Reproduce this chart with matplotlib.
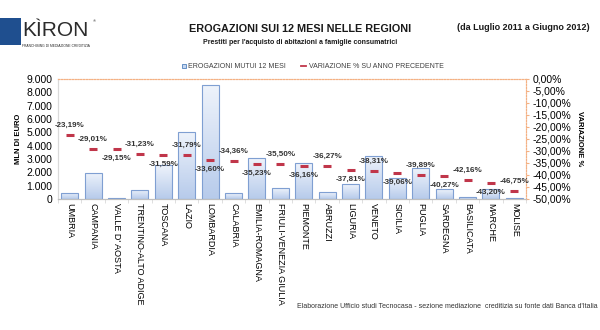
import matplotlib
matplotlib.use("Agg")
import matplotlib.pyplot as plt
import numpy as np
from matplotlib.patches import Rectangle

plt.rcParams['font.family'] = ['Liberation Sans', 'DejaVu Sans']

regioni = ["UMBRIA", "CAMPANIA", "VALLE D' AOSTA", "TRENTINO-ALTO ADIGE", "TOSCANA",
           "LAZIO", "LOMBARDIA", "CALABRIA", "EMILIA-ROMAGNA", "FRIULI-VENEZIA GIULIA",
           "PIEMONTE", "ABRUZZI", "LIGURIA", "VENETO", "SICILIA", "PUGLIA",
           "SARDEGNA", "BASILICATA", "MARCHE", "MOLISE"]
erogazioni = [480, 1970, 100, 680, 2530, 5050, 8550, 430, 3050, 800,
              2680, 500, 1120, 3230, 1600, 2300, 730, 130, 730, 100]
variazione = [-23.19, -29.01, -29.15, -31.23, -31.59, -31.79, -33.60, -34.36, -35.23, -35.50,
              -36.16, -36.27, -37.81, -38.31, -39.06, -39.89, -40.27, -42.16, -43.20, -46.75]
# where excel put the data label: 1 above the marker, -1 below
lbl_pos = [1, 1, -1, 1, -1, 1, -1, 1, -1, 1, -1, 1, -1, 1, -1, 1, -1, 1, -1, 1]

def fmt_it(v, dec=2):
    return ("%.*f" % (dec, v)).replace(".", ",")

fig = plt.figure(figsize=(6, 3.3), dpi=100)
ax = fig.add_axes([58/600, 1-199/330, 468/600, 120/330])
ax2 = ax.twinx()

x = np.arange(len(regioni))
bars = ax.bar(x, erogazioni, width=0.72, facecolor='none', edgecolor='#7f9fd2', linewidth=0.8, zorder=3)
# vertical gradient inside every bar
grad = np.linspace(0, 1, 64).reshape(-1, 1)
cmap = matplotlib.colors.LinearSegmentedColormap.from_list('b', ['#b7cbeb', '#eef3fb'])
for b in bars:
    bx, by, bw, bh = b.get_x(), b.get_y(), b.get_width(), b.get_height()
    im = ax.imshow(grad, cmap=cmap, aspect='auto', origin='lower',
                   extent=[bx, bx + bw, by, by + bh], zorder=2)
    im.set_clip_path(b)

ax.set_xlim(-0.5, len(regioni) - 0.5)
ax.set_ylim(0, 9000)
ax.set_yticks(np.arange(0, 9001, 1000))
ax.set_yticklabels(["{:,}".format(v).replace(",", ".") for v in range(0, 9001, 1000)], fontsize=7.5)
ax.set_xticks(x)
ax.set_xticklabels(regioni, rotation=-90, fontsize=6.5, va='top', ha='center')
ax.set_xticks(np.arange(-0.5, len(regioni), 1), minor=True)
ax.tick_params(axis='x', which='major', length=0, pad=3)
ax.tick_params(axis='x', which='minor', length=3, color='#d9d9d9')
ax.tick_params(axis='y', length=0, pad=4)
ax.set_ylabel("MLN DI EURO", fontsize=5.5, fontweight='bold', labelpad=3)

ax2.plot(x, variazione, linestyle='none', marker='_', markersize=6, mew=2.2, color='#c0364a', zorder=4)
for xi, v, p in zip(x, variazione, lbl_pos):
    ax2.annotate(fmt_it(v) + "%", (xi, v), xytext=(0, 7 * p), textcoords='offset points',
                 ha='center', va='center', fontsize=5.8, fontweight='bold', color='#333333')
ax2.set_ylim(-50, 0)
ax2.set_yticks(np.arange(-50, 1, 5))
ax2.set_yticklabels([fmt_it(v) + "%" for v in np.arange(-50, 1, 5)], fontsize=7.5)
ax2.tick_params(axis='y', length=2, color='#f4b183', pad=3)
ax2.set_ylabel("VARIAZIONE %", fontsize=5.5, fontweight='bold', rotation=-90, labelpad=8)

for a in (ax, ax2):
    a.spines['left'].set_color('#d9d9d9')
    a.spines['bottom'].set_color('#bfbfbf')
    a.spines['top'].set_color('#f4b183')
    a.spines['top'].set_linestyle((0, (1, 1.5)))
    a.spines['right'].set_color('#f4b183')
    a.spines['right'].set_linestyle((0, (1, 1.5)))

# titles
fig.text(300/600, 1-29/330, "EROGAZIONI SUI 12 MESI NELLE REGIONI", ha='center', va='center',
         fontsize=7.8, fontweight='bold', color='#1a1a1a')
fig.text(300/600, 1-42/330, "Prestiti per l'acquisto di abitazioni a famiglie consumatrici", ha='center',
         va='center', fontsize=5.0, fontweight='bold', color='#1a1a1a')
fig.text(523/600, 1-28/330, "(da Luglio 2011 a Giugno 2012)", ha='center', va='center',
         fontsize=6.5, fontweight='bold', color='#1a1a1a')

# legend
fig.add_artist(Rectangle((182/600, 1-68/330), 4/600, 4/330, facecolor='#c6d6ef', edgecolor='#4f81bd', lw=0.6))
fig.text(188/600, 1-66/330, "EROGAZIONI MUTUI 12 MESI", va='center', fontsize=5, color='#404040')
fig.add_artist(plt.Line2D([301/600, 306/600], [1-66/330, 1-66/330], color='#c0364a', lw=1.3))
fig.text(309/600, 1-66/330, "VARIAZIONE % SU ANNO PRECEDENTE", va='center', fontsize=5, color='#404040')

# logo
fig.add_artist(Rectangle((0, 1-45/330), 21/600, 27/330, facecolor='#1f4f8f', edgecolor='none'))
fig.text(22/600, 1-30/330, "KÌRON", va='center', ha='left', fontsize=15, color='#2b2b2b')
fig.text(93/600, 1-21/330, "®", va='center', ha='left', fontsize=3, color='#2b2b2b')
fig.text(22/600, 1-46/330, "FRANCHISING DI MEDIAZIONE CREDITIZIA", va='center', ha='left',
         fontsize=2.4, color='#2b2b2b')

# source
fig.text(598/600, 1-307/330, "Elaborazione Ufficio studi Tecnocasa - sezione mediazione  creditizia su fonte dati Banca d'Italia",
         ha='right', va='center', fontsize=5, color='#333333')

fig.savefig("out.png", dpi=100)
